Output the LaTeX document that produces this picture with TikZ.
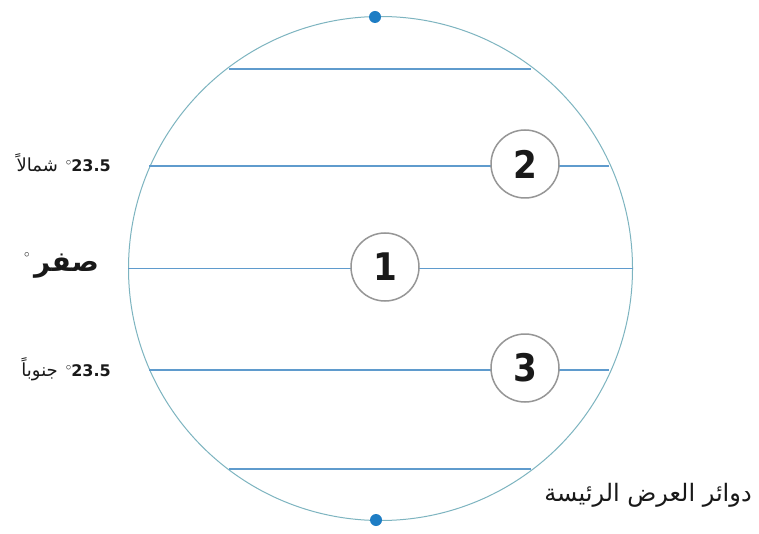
\documentclass[tikz,border=0pt]{standalone}
\usepackage{fontspec}
\setmainfont{DejaVu Sans}
\newfontfamily\arabicfont[Script=Arabic]{DejaVu Sans}
\newfontfamily\numfont{DejaVu Sans Condensed}
\TeXXeTstate=1
\definecolor{globeline}{RGB}{125,180,192}
\definecolor{latline}{RGB}{95,155,205}
\definecolor{ringgray}{RGB}{150,150,150}
\definecolor{poleblue}{RGB}{30,125,196}
\definecolor{txt}{RGB}{25,25,25}
\newcommand{\degmark}[1]{\raisebox{#1}{$\scriptstyle\circ$}}
\begin{document}
\begin{tikzpicture}[x=1pt,y=-1pt,
  lat/.style={draw=latline,line width=1.4pt},
  numring/.style={circle,draw=ringgray,line width=1.5pt,fill=white,minimum size=68pt,inner sep=0pt,font=\numfont\bfseries\fontsize{38}{38}\selectfont,text=txt},
  pole/.style={circle,fill=poleblue,minimum size=12pt,inner sep=0pt},
  lbl/.style={text=txt,inner sep=0pt}]
\useasboundingbox (0,0) rectangle (759,534);
\fill[white] (0,0) rectangle (759,534);
\node[circle,draw=globeline,line width=1pt,minimum size=504pt,inner sep=0pt] (globe) at (380.5,268.5) {};
\coordinate (a1) at (229,69);  \coordinate (b1) at (531,69);
\coordinate (a2) at (149,166); \coordinate (b2) at (609,166);
\coordinate (a4) at (149,370); \coordinate (b4) at (609,370);
\coordinate (a5) at (229,469); \coordinate (b5) at (531,469);
\draw[lat] (a1) -- (b1);
\draw[lat] (a2) -- (b2);
\draw[lat] (globe.west) -- (globe.east);
\draw[lat] (a4) -- (b4);
\draw[lat] (a5) -- (b5);
\node[numring] (n1) at (385,267) {1};
\node[numring] (n2) at (525,164) {2};
\node[numring] (n3) at (525,368) {3};
\node[pole] (np) at (375,17) {};
\node[pole] (sp) at (376,520) {};
\node[lbl,anchor=east,font=\bfseries\fontsize{16}{16}\selectfont] (l2) at (111,163) {{\arabicfont\mdseries\fontsize{18}{18}\selectfont\beginR شمالاً\endR}\enspace\degmark{6pt}23.5};
\node[lbl,anchor=east,font=\fontsize{28}{28}\selectfont] (l1) at (99,265) {{\fontsize{16}{16}\selectfont\bfseries\degmark{14pt}}\,{\arabicfont\bfseries\beginR صفر\endR}};
\node[lbl,anchor=east,font=\bfseries\fontsize{16}{16}\selectfont] (l3) at (111,369) {{\arabicfont\mdseries\fontsize{18}{18}\selectfont\beginR جنوباً\endR}\enspace\degmark{6pt}23.5};
\node[lbl,font=\fontsize{24}{24}\selectfont] (l4) at (648,495) {\arabicfont\beginR دوائر العرض الرئيسة\endR};
\end{tikzpicture}
\end{document}
